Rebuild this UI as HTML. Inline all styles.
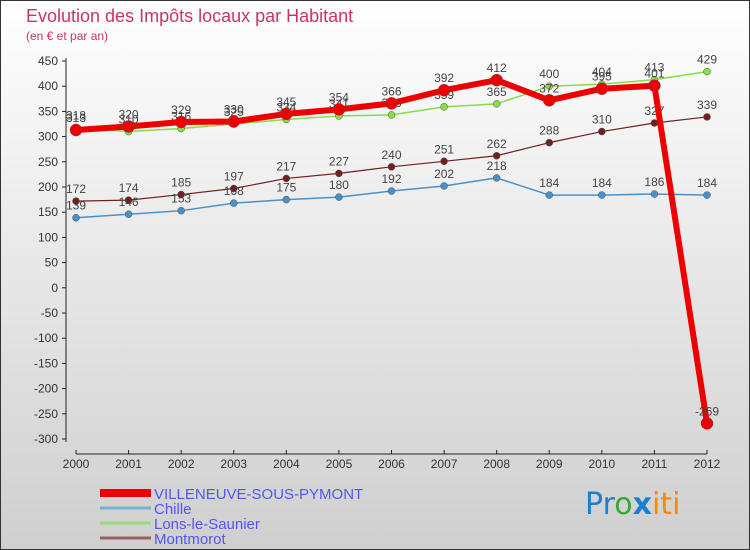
<!DOCTYPE html>
<html><head><meta charset="utf-8"><style>
body{margin:0;width:750px;height:550px;overflow:hidden;font-family:"Liberation Sans",sans-serif}
svg{display:block}
</style></head><body>
<svg id="chart" width="750" height="550" xmlns="http://www.w3.org/2000/svg">
<defs><linearGradient id="bg" x1="0" y1="0" x2="0" y2="1"><stop offset="0" stop-color="#ffffff"/><stop offset="1" stop-color="#cfcfcf"/></linearGradient></defs>
<rect x="0.5" y="0.5" width="749" height="549" fill="url(#bg)" stroke="#333"/>
<text x="26" y="22" font-size="18" fill="#cc3366">Evolution des Impôts locaux par Habitant</text>
<text x="26" y="40" font-size="12" fill="#cc3366">(en € et par an)</text>
<g id="axes"></g><g id="series"></g><g id="legend"></g>
<text x="585" y="514" font-size="30" font-family="DejaVu Sans, sans-serif" font-weight="normal"><tspan fill="#1a7fd0">Pr</tspan><tspan fill="#33aa33">o</tspan><tspan fill="#1a7fd0" font-weight="bold">x</tspan><tspan fill="#ff8800">iti</tspan></text>
</svg>
<script>
const years=[2000,2001,2002,2003,2004,2005,2006,2007,2008,2009,2010,2011,2012];
const yTicks=[450,400,350,300,250,200,150,100,50,0,-50,-100,-150,-200,-250,-300];
const villeneuve=[313,320,329,330,345,354,366,392,412,372,395,401,-269];
const chille=[139,146,153,168,175,180,192,202,218,184,184,186,184];
const lons=[318,310,316,325,334,341,343,359,365,400,404,413,429];
const montmorot=[172,174,185,197,217,227,240,251,262,288,310,327,339];
const NS="http://www.w3.org/2000/svg";
const X=i=>76+i*(707-76)/12;
const Y=v=>61+(450-v)*(439-61)/750;
function mk(tag,attrs,parent){const e=document.createElementNS(NS,tag);for(const k in attrs)e.setAttribute(k,attrs[k]);parent.appendChild(e);return e;}
const axes=document.getElementById('axes');
let l=mk('line',{x1:66,y1:58,x2:66,y2:442,stroke:'#222'},axes);


yTicks.forEach(v=>{
  const t=mk('line',{x1:62,y1:Y(v),x2:66,y2:Y(v),stroke:'#222'},axes);
  
  
  const s=mk('text',{x:58,y:Y(v)+4,'font-size':12,fill:'#333','text-anchor':'end'},axes);
  s.textContent=v;
  
  
});
l=mk('line',{x1:76,y1:454,x2:707,y2:454,stroke:'#222'},axes);


years.forEach((y,i)=>{
  const t=mk('line',{x1:X(i),y1:450,x2:X(i),y2:454,stroke:'#222'},axes);
  
  
  const s=mk('text',{x:X(i),y:468,'font-size':12,fill:'#333','text-anchor':'middle'},axes);
  s.textContent=y;
  
  
});
const ser=document.getElementById('series');
function draw(data,color,w,r,name){
  const g=mk('g',{},ser);
  
  
  const p=mk('polyline',{points:data.map((v,i)=>X(i)+','+Y(v)).join(' '),fill:'none',stroke:color,'stroke-width':w,'stroke-linejoin':'round'},g);
  
  
  data.forEach((v,i)=>{
    const c=mk('circle',{cx:X(i),cy:Y(v),r:r,fill:color,stroke:'#555','stroke-width':0.5},g);
    
    
    const t=mk('text',{x:X(i),y:Y(v)-8,'font-size':12,fill:'#444','text-anchor':'middle'},g);
    t.textContent=v;
    
    
  });
}
draw(chille,'#4a90c8',1.5,3.5,'chille');
draw(montmorot,'#702020',1.2,3.5,'montmorot');
draw(lons,'#88dd44',1.5,3.5,'lons-le-saunier');
draw(villeneuve,'#ee0000',6,6,'villeneuve');
const leg=document.getElementById('legend');
const items=[['VILLENEUVE-SOUS-PYMONT','#ee0000',8],['Chille','#7ab0d0',3],['Lons-le-Saunier','#99dd77',3],['Montmorot','#9a6060',3]];
items.forEach((it,i)=>{
  const y=493+i*15;
  const g=mk('g',{},leg);
  
  
  const ln=mk('line',{x1:100,y1:y,x2:151,y2:y,stroke:it[1],'stroke-width':it[2]},g);
  
  
  const t=mk('text',{x:154,y:y+6,'font-size':15,fill:'#5555ee'},g);
  t.textContent=it[0];
  
  
});
</script>
</body></html>
